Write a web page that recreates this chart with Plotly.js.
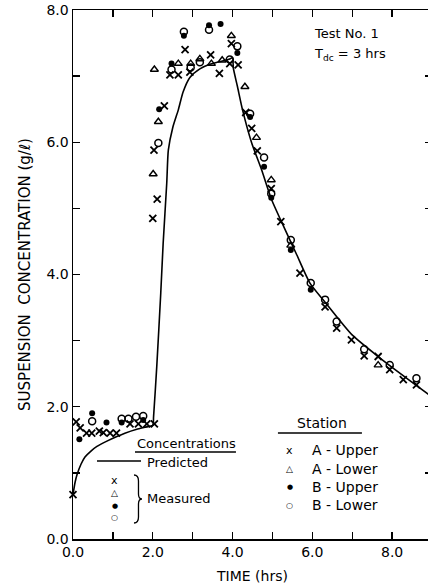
<!DOCTYPE html>
<html><head><meta charset="utf-8">
<script src="https://cdn.plot.ly/plotly-3.0.1.min.js"></script>
<style>
html,body{margin:0;padding:0;background:#fff;overflow:hidden}
#wrap{width:428px;height:586px;overflow:hidden;position:relative}
#chart{width:432px;height:586px}
</style></head>
<body><div id="wrap"><div id="chart"></div></div>
<script>
// Predicted concentration curve
const curveTime = [0, 0.05, 0.1, 0.2, 0.3, 0.45, 0.6, 0.85, 1.1, 1.3, 1.6, 1.8, 2.0, 2.02, 2.1, 2.2, 2.26, 2.35, 2.39, 2.5, 2.64, 2.76, 2.93, 3.18, 3.43, 3.68, 3.93, 4.0, 4.02, 4.12, 4.25, 4.48, 4.73, 4.98, 5.24, 5.6, 5.94, 6.32, 6.99, 7.69, 8.1, 8.52, 9.0];
const curveConc = [0.67, 0.85, 0.97, 1.13, 1.24, 1.33, 1.40, 1.48, 1.55, 1.60, 1.66, 1.69, 1.72, 1.85, 2.61, 3.72, 4.47, 5.38, 5.88, 6.22, 6.49, 6.76, 6.98, 7.11, 7.18, 7.22, 7.26, 7.28, 7.12, 6.85, 6.49, 5.99, 5.58, 5.13, 4.78, 4.31, 3.87, 3.58, 3.09, 2.74, 2.55, 2.36, 2.15];

// Measured: Station A - Upper (x)
const aUpperTime = [0.00, 0.08, 0.18, 0.34, 0.47, 0.66, 0.76, 0.93, 1.09, 1.43, 1.64, 1.85, 2.04, 2.00, 2.11, 2.03, 2.29, 2.43, 2.64, 2.81, 2.93, 3.45, 3.67, 3.97, 3.93, 4.14, 4.33, 4.48, 4.62, 4.97, 5.21, 5.69, 6.32, 6.61, 6.98, 7.30, 7.65, 7.94, 8.28, 8.61];
const aUpperConc = [0.67, 1.77, 1.68, 1.60, 1.60, 1.63, 1.61, 1.60, 1.60, 1.74, 1.74, 1.74, 1.74, 4.85, 5.14, 5.88, 6.55, 7.02, 7.02, 7.40, 7.06, 7.32, 7.04, 7.49, 7.19, 7.17, 6.45, 6.21, 5.87, 5.30, 4.80, 4.02, 3.51, 3.19, 3.01, 2.77, 2.76, 2.56, 2.41, 2.33];

// Station A - Lower (triangle)
const aLowerTime = [2.01, 2.14, 2.04, 2.64, 2.95, 3.18, 3.47, 3.74, 3.97, 4.31, 4.60, 4.97, 5.46, 7.65];
const aLowerConc = [5.52, 6.31, 7.10, 7.19, 7.19, 7.26, 7.19, 7.24, 7.61, 6.84, 6.07, 5.43, 4.44, 2.63];

// Station B - Upper (filled circle)
const bUpperTime = [0.16, 0.48, 0.84, 1.22, 1.76, 2.16, 2.47, 2.78, 3.41, 3.70, 4.12, 4.44, 4.79, 4.97, 5.46, 5.96];
const bUpperConc = [1.51, 1.90, 1.76, 1.76, 1.80, 6.50, 7.19, 7.61, 7.77, 7.79, 7.35, 6.38, 5.63, 5.16, 4.37, 3.77];

// Station B - Lower (open circle)
const bLowerTime = [0.48, 1.22, 1.39, 1.58, 1.76, 2.14, 2.47, 2.78, 2.95, 3.18, 3.41, 3.93, 4.12, 4.44, 4.79, 4.97, 5.46, 5.96, 6.32, 6.61, 7.30, 7.94, 8.61];
const bLowerConc = [1.78, 1.82, 1.82, 1.85, 1.86, 5.99, 7.10, 7.67, 7.13, 7.21, 7.70, 7.25, 7.45, 6.43, 5.77, 5.22, 4.52, 3.87, 3.62, 3.29, 2.87, 2.63, 2.43];

// Ticks (labelled major ticks; minor ticks every 1 unit)
const xTickVals = [0, 2, 4, 6, 8];
const xTickText = ['0.0', '2.0', '4.0', '6.0', '8.0'];
const yTickVals = [0, 2, 4, 6, 8];
const yTickText = ['0.0', '2.0', '4.0', '6.0', '8.0'];

// Legend texts
const stationLabels = ['A - Upper', 'A - Lower', 'B - Upper', 'B - Lower'];
const stationSymbols = ['x', '\u25B3', '\u25CF', '\u25CB'];

const FONT = 'DejaVu Sans, Arial, sans-serif';
// pixel -> data helpers for decoration placement
const L = 73, B = 539, PXX = 39.9, PXY = 66.125;
const dx = px => (px - L) / PXX;
const dy = py => (B - py) / PXY;

const traces = [
  {x: curveTime, y: curveConc, mode: 'lines', line: {color: '#000', width: 1.6, shape: 'spline', smoothing: 0.6}, hoverinfo: 'skip', showlegend: false, cliponaxis: false},
  {x: aUpperTime, y: aUpperConc, mode: 'markers', marker: {symbol: 'x-thin', size: 7, line: {color: '#000', width: 1.8}}, showlegend: false, cliponaxis: false},
  {x: aLowerTime, y: aLowerConc, mode: 'markers', marker: {symbol: 'triangle-up-open', size: 7, color: '#000', line: {color: '#000', width: 1.4}}, showlegend: false, cliponaxis: false},
  {x: bUpperTime, y: bUpperConc, mode: 'markers', marker: {symbol: 'circle', size: 6, color: '#000'}, showlegend: false, cliponaxis: false},
  {x: bLowerTime, y: bLowerConc, mode: 'markers', marker: {symbol: 'circle-open', size: 7, color: '#000', line: {color: '#000', width: 1.5}}, showlegend: false, cliponaxis: false}
];

const annotations = [
  {x: dx(312), y: dy(33), xref: 'x', yref: 'y', text: 'Test No. 1', showarrow: false, xanchor: 'left', yanchor: 'middle', font: {family: FONT, size: 13, color: '#000'}},
  {x: dx(312), y: dy(54), xref: 'x', yref: 'y', text: 'T<sub>dc</sub> = 3 hrs', showarrow: false, xanchor: 'left', yanchor: 'middle', font: {family: FONT, size: 13, color: '#000'}},
  {x: dx(135), y: dy(443), xref: 'x', yref: 'y', text: 'Concentrations', showarrow: false, xanchor: 'left', yanchor: 'middle', font: {family: FONT, size: 13, color: '#000'}},
  {x: dx(145), y: dy(462), xref: 'x', yref: 'y', text: 'Predicted', showarrow: false, xanchor: 'left', yanchor: 'middle', font: {family: FONT, size: 13, color: '#000'}},
  {x: dx(145), y: dy(498), xref: 'x', yref: 'y', text: 'Measured', showarrow: false, xanchor: 'left', yanchor: 'middle', font: {family: FONT, size: 13, color: '#000'}},
  {x: dx(322), y: dy(423), xref: 'x', yref: 'y', text: 'Station', showarrow: false, xanchor: 'center', yanchor: 'middle', font: {family: FONT, size: 14, color: '#000'}}
];
const measRows = [480, 493, 506, 517];
const measSizes = [11, 9, 7, 8];
stationSymbols.forEach((s, i) => {
  annotations.push({x: dx(115), y: dy(measRows[i]), xref: 'x', yref: 'y', text: s, showarrow: false, xanchor: 'center', yanchor: 'middle', font: {family: FONT, size: measSizes[i], color: '#000'}});
});
const stRows = [450, 468.5, 487, 505];
stationLabels.forEach((t, i) => {
  annotations.push({x: dx(290), y: dy(stRows[i]), xref: 'x', yref: 'y', text: stationSymbols[i], showarrow: false, xanchor: 'center', yanchor: 'middle', font: {family: FONT, size: measSizes[i], color: '#000'}});
  annotations.push({x: dx(310), y: dy(stRows[i]), xref: 'x', yref: 'y', text: t, showarrow: false, xanchor: 'left', yanchor: 'middle', font: {family: FONT, size: 14, color: '#000'}});
});

const bracePath = 'M' + dx(134) + ',' + dy(475) +
  ' Q' + dx(138.5) + ',' + dy(475) + ' ' + dx(138.5) + ',' + dy(481) +
  ' L' + dx(138.5) + ',' + dy(494) +
  ' Q' + dx(138.5) + ',' + dy(499) + ' ' + dx(142) + ',' + dy(499) +
  ' Q' + dx(138.5) + ',' + dy(499) + ' ' + dx(138.5) + ',' + dy(504) +
  ' L' + dx(138.5) + ',' + dy(517) +
  ' Q' + dx(138.5) + ',' + dy(523) + ' ' + dx(134) + ',' + dy(523);

const shapes = [
  {type: 'line', xref: 'x', yref: 'y', x0: dx(135), x1: dx(236), y0: dy(452), y1: dy(452), line: {color: '#000', width: 1.3}},
  {type: 'line', xref: 'x', yref: 'y', x0: dx(97), x1: dx(141), y0: dy(461), y1: dy(461), line: {color: '#000', width: 1.6}},
  {type: 'line', xref: 'x', yref: 'y', x0: dx(278), x1: dx(362), y0: dy(433), y1: dy(433), line: {color: '#000', width: 1.3}},
  {type: 'path', xref: 'x', yref: 'y', path: bracePath, line: {color: '#000', width: 1.3}}
];

const minorTicks = {dtick: 1, ticks: 'inside', ticklen: 7, tickwidth: 1.3, tickcolor: '#000', showgrid: false};

const layout = {
  width: 432, height: 586,
  margin: {l: 73, r: 0, t: 10, b: 47, pad: 0},
  paper_bgcolor: '#fff', plot_bgcolor: '#fff',
  showlegend: false,
  font: {family: FONT, color: '#000', size: 14},
  xaxis: {
    range: [0, 9], tickvals: xTickVals, ticktext: xTickText,
    ticks: 'inside', ticklen: 7, tickwidth: 1.3, tickcolor: '#000',
    minor: minorTicks,
    showline: true, linecolor: '#000', linewidth: 1.5, mirror: 'allticks',
    showgrid: false, zeroline: false,
    tickfont: {family: FONT, size: 14, color: '#000'},
    title: {text: 'TIME (hrs)', font: {family: FONT, size: 14, color: '#000'}, standoff: 12}
  },
  yaxis: {
    range: [0, 8], tickvals: yTickVals, ticktext: yTickText,
    ticks: 'inside', ticklen: 7, tickwidth: 1.3, tickcolor: '#000',
    minor: minorTicks,
    showline: true, linecolor: '#000', linewidth: 1.5, mirror: 'allticks',
    showgrid: false, zeroline: false,
    tickfont: {family: FONT, size: 14, color: '#000'},
    title: {text: 'SUSPENSION  CONCENTRATION (g/\u2113)', font: {family: FONT, size: 15, color: '#000'}, standoff: 12}
  },
  annotations: annotations,
  shapes: shapes
};

Plotly.newPlot('chart', traces, layout, {staticPlot: true, displayModeBar: false});
</script>
</body></html>
